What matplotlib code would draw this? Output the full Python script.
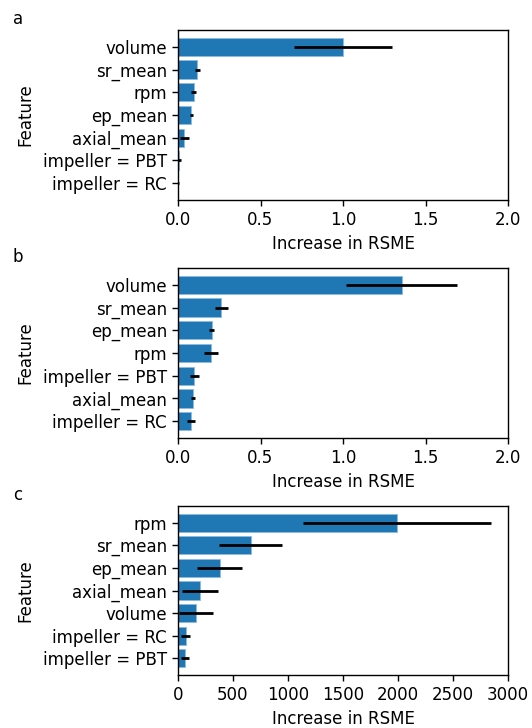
import matplotlib
matplotlib.use("Agg")
import matplotlib.pyplot as plt

# Permutation importance (mean increase in RSME, with std) for three models.
# Lists are ordered from the least to the most important feature.
features_a = ["impeller = RC", "impeller = PBT", "axial_mean", "ep_mean", "rpm", "sr_mean", "volume"]
means_a = [0.002, 0.004, 0.038, 0.081, 0.095, 0.117, 1.0]
stds_a = [0.006, 0.012, 0.028, 0.009, 0.016, 0.015, 0.295]

features_b = ["impeller = RC", "axial_mean", "impeller = PBT", "rpm", "ep_mean", "sr_mean", "volume"]
means_b = [0.079, 0.089, 0.099, 0.202, 0.205, 0.262, 1.355]
stds_b = [0.022, 0.012, 0.026, 0.042, 0.015, 0.038, 0.338]

features_c = ["impeller = PBT", "impeller = RC", "volume", "axial_mean", "ep_mean", "sr_mean", "rpm"]
means_c = [61, 70, 167, 200, 379, 661, 1990]
stds_c = [35, 40, 154, 168, 206, 288, 852]

panel_labels = ["a", "b", "c"]
x_limits = [(0, 2.0), (0, 2.0), (0, 3000)]
x_ticks = [[0.0, 0.5, 1.0, 1.5, 2.0], [0.0, 0.5, 1.0, 1.5, 2.0],
           [0, 500, 1000, 1500, 2000, 2500, 3000]]

plt.rcParams["font.family"] = ["DejaVu Sans"]
plt.rcParams["font.size"] = 12
plt.rcParams["axes.linewidth"] = 1.0
plt.rcParams["xtick.major.size"] = 4.5
plt.rcParams["ytick.major.size"] = 4.5
plt.rcParams["xtick.major.width"] = 1.0
plt.rcParams["ytick.major.width"] = 1.0

W, H = 532, 728
fig = plt.figure(figsize=(W / 100, H / 100), dpi=100)

# axes boxes in pixels: (left, top, right, bottom)
boxes = [(178, 30, 508, 200), (178, 268, 508, 438), (178, 506, 508, 675)]

data = [(features_a, means_a, stds_a), (features_b, means_b, stds_b),
        (features_c, means_c, stds_c)]

for (feats, means, stds), (l, t, r, b), lab, xl, xt in zip(
        data, boxes, panel_labels, x_limits, x_ticks):
    ax = fig.add_axes([l / W, (H - b) / H, (r - l) / W, (b - t) / H])
    ypos = list(range(len(feats)))
    ax.barh(ypos, means, height=0.8, color="#1f77b4", edgecolor="#8dbbe0",
            linewidth=0.6)
    ax.errorbar(means, ypos, xerr=stds, fmt="none", ecolor="black",
                elinewidth=2.0, capsize=0)
    ax.set_yticks(ypos)
    ax.set_yticklabels(feats)
    ax.set_xlim(*xl)
    ax.set_xticks(xt)
    ax.set_xlabel("Increase in RSME")
    ax.set_ylabel("Feature")
    ax.yaxis.set_label_coords(-0.435, 0.5)
    fig.text(13 / W, 1 - (t - 6) / H, lab, fontsize=12, va="baseline", ha="left")

fig.savefig("out.png", dpi=100)
